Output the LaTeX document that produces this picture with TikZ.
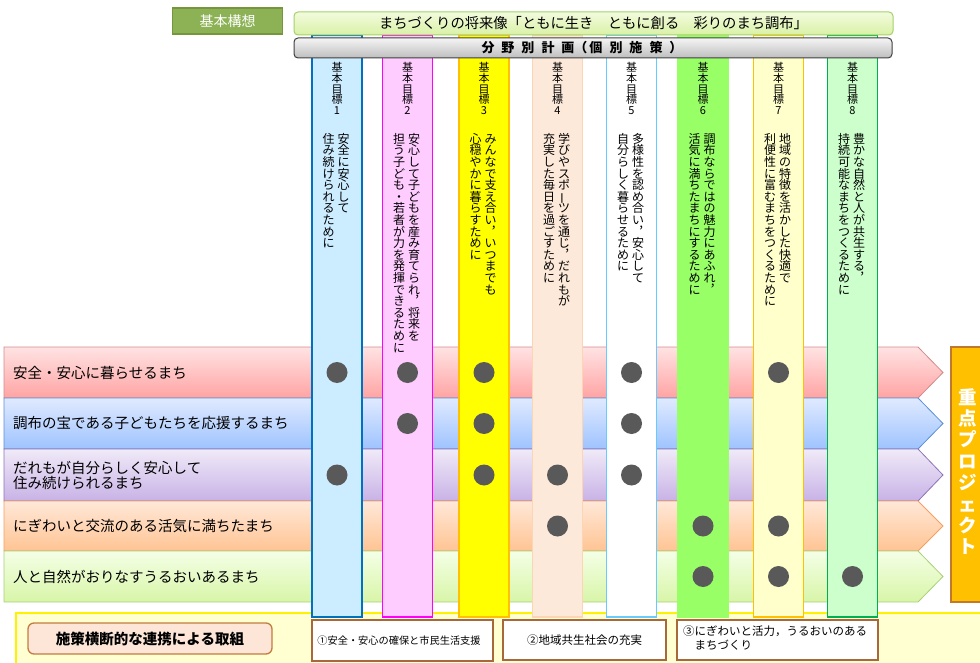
\documentclass[tikz,border=0pt]{standalone}
\usepackage{graphicx}
\usepackage{fontspec}
\setmainfont{Noto Sans CJK JP}
\makeatletter
\def\vt@a#1{\ifx#1\relax\else\hbox to 1em{\hss#1\hss}\expandafter\vt@a\fi}
\newcommand\vtext[2]{\vtop{\baselineskip=#1\lineskiplimit=-100pt\lineskip=0pt\relax\vt@a#2\relax}}
\makeatother
\newcommand\vcomma{︐}
\newcommand\vlong{\rotatebox[origin=c]{90}{ー}}
\newcommand\colpair[2]{\hbox{\vtext{11.6pt}{#2}\kern3pt\vtext{11.6pt}{#1}}}
\definecolor{dotgray}{HTML}{595959}
\definecolor{bandfill}{HTML}{FFFFD2}
\definecolor{boxbrown}{HTML}{A8693A}
\tikzset{
  colbox/.style={rectangle, inner sep=0, minimum width=50, minimum height=582, line width=1.6pt},
  dot/.style={circle, fill=dotgray, inner sep=0, minimum size=21},
  goal/.style={anchor=north, inner sep=0, font=\fontsize{11}{11}\selectfont},
  goaltxt/.style={anchor=north, inner sep=0, font=\fontsize{12}{12}\selectfont},
  rowtxt/.style={anchor=west, inner sep=0, align=left, font=\fontsize{14.5}{15}\selectfont},
  rowarrow/.style={line width=0.8pt},
  smallbox/.style={draw=boxbrown, fill=white, line width=1.3pt, inner sep=0},
}
\begin{document}
\begin{tikzpicture}[x=1pt,y=-1pt]
\useasboundingbox (0,0) rectangle (980,663);
% bottom band
\draw[draw=yellow, fill=bandfill, line width=1.5pt] (16,613) rectangle (995,680);
% rows
\shadedraw[rowarrow, top color={rgb,255:red,255;green,227;blue,227}, bottom color={rgb,255:red,255;green,163;blue,163}, draw={rgb,255:red,212;green,138;blue,138}]
  (4,347) -- (918,347) -- (943,372.5) -- (918,398) -- (4,398) -- cycle;
\shadedraw[rowarrow, top color={rgb,255:red,224;green,234;blue,255}, bottom color={rgb,255:red,158;green,195;blue,255}, draw={rgb,255:red,91;green,143;blue,214}]
  (4,398) -- (918,398) -- (943,423.5) -- (918,449) -- (4,449) -- cycle;
\shadedraw[rowarrow, top color={rgb,255:red,240;green,234;blue,248}, bottom color={rgb,255:red,200;green,178;blue,230}, draw={rgb,255:red,142;green,114;blue,184}]
  (4,449) -- (918,449) -- (943,475) -- (918,501) -- (4,501) -- cycle;
\shadedraw[rowarrow, top color={rgb,255:red,255;green,232;blue,216}, bottom color={rgb,255:red,255;green,196;blue,147}, draw={rgb,255:red,245;green,160;blue,96}]
  (4,501) -- (918,501) -- (943,526) -- (918,551) -- (4,551) -- cycle;
\shadedraw[rowarrow, top color={rgb,255:red,244;green,255;blue,230}, bottom color={rgb,255:red,216;green,245;blue,168}, draw={rgb,255:red,168;green,208;blue,120}]
  (4,551) -- (918,551) -- (943,576.5) -- (918,602) -- (4,602) -- cycle;
\node[rowtxt] (r1) at (13,372.5) {安全・安心に暮らせるまち};
\node[rowtxt] (r2) at (13,423.5) {調布の宝である子どもたちを応援するまち};
\node[rowtxt] (r3) at (13,475) {だれもが自分らしく安心して\\住み続けられるまち};
\node[rowtxt] (r4) at (13,526) {にぎわいと交流のある活気に満ちたまち};
\node[rowtxt] (r5) at (13,576.5) {人と自然がおりなすうるおいあるまち};
% columns
\node[colbox, fill={rgb,255:red,204;green,236;blue,255}, draw={rgb,255:red,0;green,112;blue,192}] (c1) at (337,326) {};
\node[colbox, fill={rgb,255:red,255;green,204;blue,255}, draw={rgb,255:red,255;green,0;blue,255}] (c2) at (407.5,326) {};
\node[colbox, fill={rgb,255:red,255;green,255;blue,0}, draw={rgb,255:red,255;green,192;blue,0}] (c3) at (484,326) {};
\node[colbox, fill={rgb,255:red,253;green,233;blue,217}, draw={rgb,255:red,252;green,213;blue,180}] (c4) at (557.5,326) {};
\node[colbox, fill=white, draw={rgb,255:red,102;green,204;blue,255}] (c5) at (631.5,326) {};
\node[colbox, fill={rgb,255:red,153;green,255;blue,102}, draw={rgb,255:red,153;green,255;blue,102}] (c6) at (703,326) {};
\node[colbox, fill={rgb,255:red,255;green,255;blue,204}, draw={rgb,255:red,255;green,192;blue,0}] (c7) at (778.5,326) {};
\node[colbox, fill={rgb,255:red,204;green,255;blue,204}, draw={rgb,255:red,0;green,176;blue,80}] (c8) at (852.5,326) {};
% goal labels
\node[goal] (g1) at (337,62) {\vtext{10.8pt}{基本目標1}};
\node[goal] (g2) at (407.5,62) {\vtext{10.8pt}{基本目標2}};
\node[goal] (g3) at (484,62) {\vtext{10.8pt}{基本目標3}};
\node[goal] (g4) at (557.5,62) {\vtext{10.8pt}{基本目標4}};
\node[goal] (g5) at (631.5,62) {\vtext{10.8pt}{基本目標5}};
\node[goal] (g6) at (703,62) {\vtext{10.8pt}{基本目標6}};
\node[goal] (g7) at (778.5,62) {\vtext{10.8pt}{基本目標7}};
\node[goal] (g8) at (852.5,62) {\vtext{10.8pt}{基本目標8}};
\node[goaltxt] (t1) at (336,133) {\colpair{安全に安心して}{住み続けられるために}};
\node[goaltxt] (t2) at (406.5,133) {\colpair{安心して子どもを産み育てられ\vcomma 将来を}{担う子ども・若者が力を発揮できるために}};
\node[goaltxt] (t3) at (483,133) {\colpair{みんなで支え合い\vcomma いつまでも}{心穏やかに暮らすために}};
\node[goaltxt] (t4) at (556.5,133) {\colpair{学びやスポ\vlong ツを通じ\vcomma だれもが}{充実した毎日を過ごすために}};
\node[goaltxt] (t5) at (630.5,133) {\colpair{多様性を認め合い\vcomma 安心して}{自分らしく暮らせるために}};
\node[goaltxt] (t6) at (702,133) {\colpair{調布ならではの魅力にあふれ\vcomma}{活気に満ちたまちにするために}};
\node[goaltxt] (t7) at (777.5,133) {\colpair{地域の特徴を活かした快適で}{利便性に富むまちをつくるために}};
\node[goaltxt] (t8) at (851.5,133) {\colpair{豊かな自然と人が共生する\vcomma}{持続可能なまちをつくるために}};
% dots
\node[dot] (d11) at (337,372.5) {};
\node[dot] (d12) at (407.5,372.5) {};
\node[dot] (d13) at (484,372.5) {};
\node[dot] (d15) at (631.5,372.5) {};
\node[dot] (d17) at (778.5,372.5) {};
\node[dot] (d22) at (407.5,423.5) {};
\node[dot] (d23) at (484,423.5) {};
\node[dot] (d25) at (631.5,423.5) {};
\node[dot] (d31) at (337,475) {};
\node[dot] (d33) at (484,475) {};
\node[dot] (d34) at (557.5,475) {};
\node[dot] (d35) at (631.5,475) {};
\node[dot] (d44) at (557.5,526) {};
\node[dot] (d46) at (703,526) {};
\node[dot] (d47) at (778.5,526) {};
\node[dot] (d56) at (703,576.5) {};
\node[dot] (d57) at (778.5,576.5) {};
\node[dot] (d58) at (852.5,576.5) {};
% priority project
\node[rectangle, fill={rgb,255:red,255;green,192;blue,0}, draw={rgb,255:red,192;green,120;blue,42}, line width=1.3pt, minimum width=36, minimum height=255, inner sep=0] (pp) at (969,474.5) {};
\node[anchor=north, inner sep=0, text=white, font=\fontsize{18.5}{19}\selectfont\bfseries] (ppt) at (968,388) {\vtext{21.4pt}{重点プロジェクト}};
% top boxes
\node[rectangle, fill={rgb,255:red,141;green,178;blue,85}, draw={rgb,255:red,118;green,150;blue,62}, line width=1.5pt, minimum width=110, minimum height=26, inner sep=0, text=white, font=\fontsize{14}{14}\selectfont] (kk) at (227.5,21) {基本構想};
\node[rectangle, rounded corners=4pt, top color={rgb,255:red,242;green,251;blue,222}, bottom color={rgb,255:red,218;green,241;blue,166}, draw={rgb,255:red,165;green,208;blue,106}, line width=1pt, minimum width=599, minimum height=23, inner sep=0] (vision) at (593.5,23.5) {};
\node[inner sep=0, font=\fontsize{14.3}{14}\selectfont] (visiont) at (593.5,23) {まちづくりの将来像「ともに生き　ともに創る　彩りのまち調布」};
\node[rectangle, rounded corners=4pt, top color={rgb,255:red,245;green,245;blue,245}, bottom color={rgb,255:red,190;green,190;blue,190}, draw={rgb,255:red,64;green,64;blue,64}, line width=1pt, minimum width=598, minimum height=20, inner sep=0] (plan) at (593,48) {};
\node[inner sep=0, font=\fontsize{13}{13}\selectfont\bfseries] (plant) at (582,48) {分\hspace{7pt}野\hspace{7pt}別\hspace{7pt}計\hspace{7pt}画（\hspace{2pt}個\hspace{7pt}別\hspace{7pt}施\hspace{7pt}策\hspace{7pt}）};
% bottom boxes
\node[rectangle, rounded corners=6pt, fill={rgb,255:red,253;green,230;blue,216}, draw={rgb,255:red,196;green,124;blue,62}, line width=1.3pt, minimum width=244, minimum height=31, inner sep=0, font=\fontsize{14.5}{15}\selectfont\bfseries] (cross) at (150,638.5) {施策横断的な連携による取組};
\node[smallbox, minimum width=181, minimum height=41] (b1) at (402.5,640.5) {};
\node[inner sep=0, font=\fontsize{10.2}{11}\selectfont] (b1t) at (399,640.5) {①安全・安心の確保と市民生活支援};
\node[smallbox, minimum width=163, minimum height=40] (b2) at (584.5,640) {};
\node[inner sep=0, font=\fontsize{11.5}{12}\selectfont] (b2t) at (584.5,640.5) {②地域共生社会の充実};
\node[smallbox, minimum width=201, minimum height=40] (b3) at (777.5,640) {};
\node[anchor=north west, inner sep=0, align=left, font=\fontsize{11.5}{14}\selectfont] (b3t) at (683,626) {③にぎわいと活力，うるおいのある\\\hspace{1em}まちづくり};
\end{tikzpicture}
\end{document}
